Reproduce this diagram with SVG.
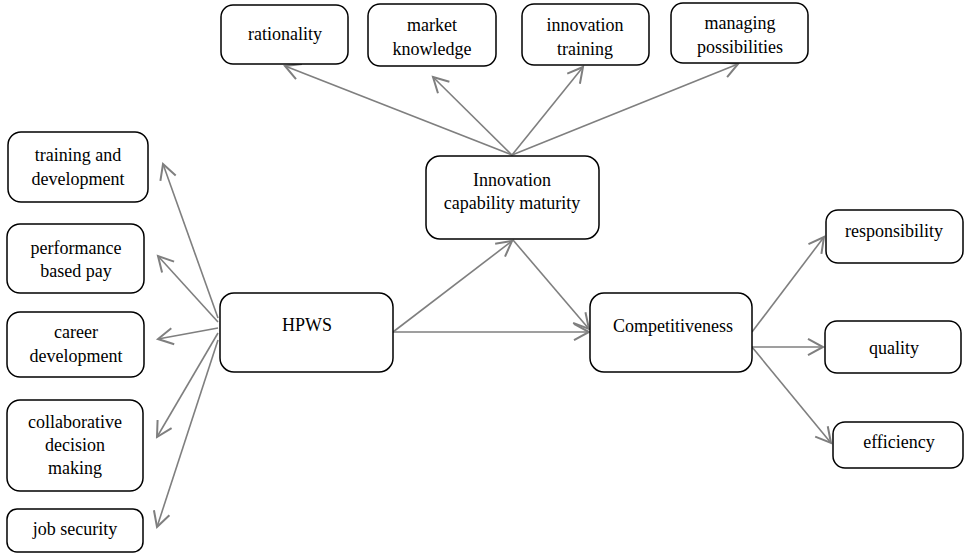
<svg xmlns="http://www.w3.org/2000/svg" width="965" height="555" viewBox="0 0 965 555">
<style>
.box{fill:#fff;stroke:#000;stroke-width:1.5}
.t{font-family:"Liberation Serif","Times New Roman",serif;font-size:18px;fill:#000;text-anchor:middle}
.c{stroke:#7f7f7f;stroke-width:1.6;fill:none;marker-end:url(#ah)}
</style>
<defs>
<marker id="ah" markerUnits="userSpaceOnUse" markerWidth="20" markerHeight="20" viewBox="-14 -8 16 16" refX="0" refY="0" orient="auto">
<path d="M-12,-6.5 L0,0 L-12,6.5" fill="none" stroke="#7f7f7f" stroke-width="1.6"/>
</marker>
</defs>
<g id="connectors">
<line class="c" x1="218" y1="318" x2="163" y2="164"/>
<line class="c" x1="218" y1="322" x2="158" y2="256"/>
<line class="c" x1="218" y1="328" x2="158" y2="339"/>
<line class="c" x1="218" y1="333" x2="157" y2="437"/>
<line class="c" x1="218" y1="340" x2="157" y2="527"/>
<line class="c" x1="512" y1="155" x2="285" y2="66"/>
<line class="c" x1="512" y1="155" x2="433" y2="77"/>
<line class="c" x1="512" y1="155" x2="583" y2="67"/>
<line class="c" x1="512" y1="155" x2="738" y2="64"/>
<line class="c" x1="393" y1="332" x2="512" y2="241"/>
<line class="c" x1="513" y1="240" x2="589" y2="329"/>
<line class="c" x1="393" y1="332" x2="589" y2="332"/>
<line class="c" x1="752" y1="332" x2="824" y2="237"/>
<line class="c" x1="752" y1="347" x2="823" y2="347"/>
<line class="c" x1="752" y1="347" x2="831" y2="443"/>
</g>
<g id="training"><rect class="box" x="8" y="132" width="140" height="70" rx="13"/><text class="t" x="78" y="161">training and</text><text class="t" x="78" y="185">development</text></g>
<g id="performance"><rect class="box" x="7" y="224" width="137" height="69" rx="13"/><text class="t" x="76" y="254">performance</text><text class="t" x="76" y="277">based pay</text></g>
<g id="career"><rect class="box" x="7" y="312" width="137" height="65" rx="13"/><text class="t" x="76" y="338">career</text><text class="t" x="76" y="362">development</text></g>
<g id="collaborative"><rect class="box" x="7" y="400" width="136" height="91" rx="13"/><text class="t" x="75" y="428">collaborative</text><text class="t" x="75" y="451">decision</text><text class="t" x="75" y="474">making</text></g>
<g id="jobsecurity"><rect class="box" x="7" y="509" width="136" height="43" rx="10"/><text class="t" x="75" y="535">job security</text></g>
<g id="hpws"><rect class="box" x="220" y="293" width="173" height="79" rx="14"/><text class="t" x="307" y="331">HPWS</text></g>
<g id="rationality"><rect class="box" x="221" y="5" width="127" height="59" rx="12"/><text class="t" x="285" y="40">rationality</text></g>
<g id="market"><rect class="box" x="368" y="4" width="128" height="62" rx="12"/><text class="t" x="432" y="31">market</text><text class="t" x="432" y="55">knowledge</text></g>
<g id="innovtraining"><rect class="box" x="522" y="4" width="127" height="61" rx="12"/><text class="t" x="585" y="31">innovation</text><text class="t" x="585" y="55">training</text></g>
<g id="managing"><rect class="box" x="671" y="3" width="137" height="60" rx="12"/><text class="t" x="740" y="29">managing</text><text class="t" x="740" y="53">possibilities</text></g>
<g id="icm"><rect class="box" x="426" y="156" width="173" height="83" rx="14"/><text class="t" x="512" y="186">Innovation</text><text class="t" x="512" y="209">capability maturity</text></g>
<g id="competitiveness"><rect class="box" x="590" y="293" width="162" height="79" rx="14"/><text class="t" x="673" y="332">Competitiveness</text></g>
<g id="responsibility"><rect class="box" x="826" y="210" width="137" height="53" rx="12"/><text class="t" x="894" y="237">responsibility</text></g>
<g id="quality"><rect class="box" x="825" y="321" width="136" height="52" rx="12"/><text class="t" x="894" y="354">quality</text></g>
<g id="efficiency"><rect class="box" x="833" y="422" width="130" height="46" rx="12"/><text class="t" x="899" y="448">efficiency</text></g>
</svg>
